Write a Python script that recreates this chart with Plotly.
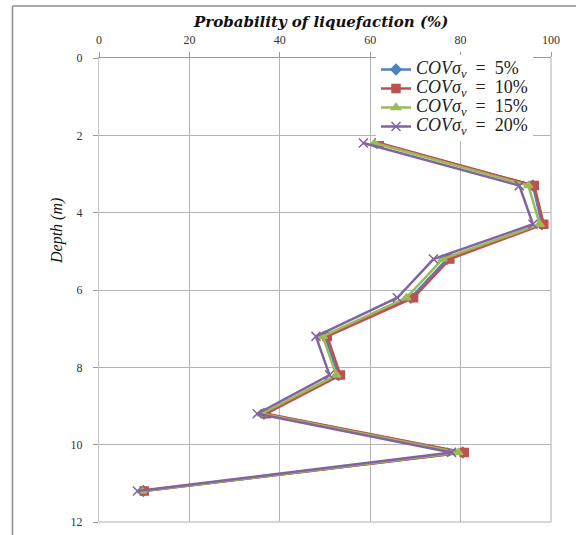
import plotly.graph_objects as go

depth = [2.2, 3.3, 4.3, 5.2, 6.2, 7.2, 8.2, 9.2, 10.2, 11.2]
p_cov5 = [61.5, 96.0, 98.0, 77.0, 69.0, 50.0, 53.0, 36.5, 80.5, 9.8]
p_cov10 = [62.0, 96.3, 98.4, 77.6, 69.6, 50.5, 53.4, 37.0, 80.8, 10.0]
p_cov15 = [61.0, 95.0, 97.5, 76.0, 68.0, 49.5, 52.5, 36.0, 79.5, 9.5]
p_cov20 = [58.5, 93.0, 96.0, 74.0, 66.0, 48.0, 51.0, 35.0, 78.0, 8.5]

cov_labels = ["5%", "10%", "15%", "20%"]
colors = ["#4F81BD", "#C0504D", "#9BBB59", "#8064A2"]
symbols = ["diamond", "square", "triangle-up", "x-thin"]
x_ticks = [0, 20, 40, 60, 80, 100]
y_ticks = [0, 2, 4, 6, 8, 10, 12]

def legend_name(lbl):
    return ('<span style="font-size:18px"><i>COVσ<sub>v</sub></i>'
            '\u2002=\u2002' + lbl + '</span>')

fig = go.Figure()
for vals, lbl, col, sym in zip([p_cov5, p_cov10, p_cov15, p_cov20], cov_labels, colors, symbols):
    fig.add_trace(go.Scatter(
        x=vals, y=depth, mode="lines+markers", name=legend_name(lbl),
        line=dict(color=col, width=2.5),
        marker=dict(symbol=sym, size=8 if sym != "x-thin" else 9, color=col,
                    line=dict(color=col, width=1.5)),
    ))

W, H = 576, 535
L, R, T, B = 99, 25, 58, 13
pw, ph = W - L - R, H - T - B

def px(xp):
    return (xp - L) / pw

def py(yp):
    return (H - B - yp) / ph

fig.update_layout(
    width=W, height=H,
    margin=dict(l=L, r=R, t=T, b=B, autoexpand=False),
    paper_bgcolor="white", plot_bgcolor="white",
    showlegend=True,
    legend=dict(x=px(376), y=py(55), xanchor="left", yanchor="top",
                bgcolor="white", borderwidth=0,
                font=dict(family="Liberation Serif", size=12, color="#222"),
                tracegroupgap=0, itemwidth=30),
    xaxis=dict(side="top", range=[0, 100], tickvals=x_ticks, ticks="outside",
               ticklen=5, tickcolor="#999", showgrid=True, gridcolor="#B4B4B4",
               gridwidth=1, showline=True, linecolor="#999", mirror=False,
               zeroline=False, ticklabelstandoff=3,
               tickfont=dict(family="Liberation Serif", size=12, color="#333")),
    yaxis=dict(range=[12, 0], tickvals=y_ticks, ticks="outside", ticklen=5,
               tickcolor="#999", showgrid=True, gridcolor="#B4B4B4", gridwidth=1,
               showline=True, linecolor="#C8C8C8", zeroline=False,
               ticklabelstandoff=8,
               tickfont=dict(family="Liberation Serif", size=12, color="#333")),
    annotations=[
        dict(text="<b><i>Probability of liquefaction (%)</i></b>", xref="paper", yref="paper",
             x=px(320), y=py(22), xanchor="center", yanchor="middle", showarrow=False,
             font=dict(family="DejaVu Serif", size=15, color="#111")),
        dict(text="<i>Depth (m)</i>", xref="paper", yref="paper", textangle=-90,
             x=px(57), y=py(231), xanchor="center", yanchor="middle", showarrow=False,
             font=dict(family="Liberation Serif", size=16, color="#111")),
    ],
    shapes=[
        dict(type="line", xref="paper", yref="paper", x0=px(12.5), x1=px(576), y0=py(6), y1=py(6),
             line=dict(color="#8C8C8C", width=1.5)),
        dict(type="line", xref="paper", yref="paper", x0=px(12.5), x1=px(12.5), y0=py(6), y1=py(535),
             line=dict(color="#8C8C8C", width=1.5)),
        dict(type="line", xref="paper", yref="paper", x0=1, x1=1, y0=0, y1=1,
             line=dict(color="#C8C8C8", width=1.5)),
        dict(type="line", xref="paper", yref="paper", x0=0, x1=1, y0=0, y1=0,
             line=dict(color="#C8C8C8", width=1.5)),
    ],
)

fig.write_html("out.html", config={"displayModeBar": False},
               post_script="document.body.style.margin='0';document.body.style.overflow='hidden';")
